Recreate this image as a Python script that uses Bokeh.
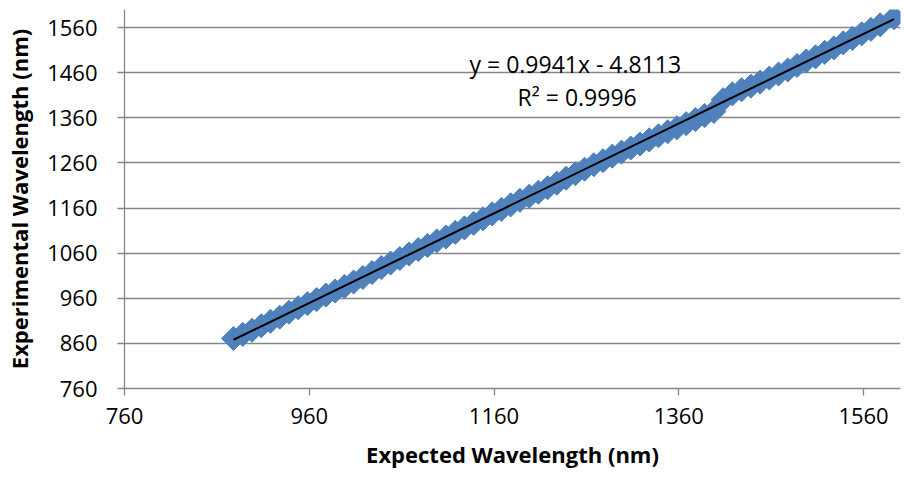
import numpy as np
from bokeh.plotting import figure
from bokeh.models import FixedTicker, Label, Range1d
from bokeh.embed import file_html
from bokeh.resources import INLINE

# Data
expected = [878, 888, 898, 908, 918, 928, 938, 948, 958, 968,
            978, 988, 998, 1008, 1018, 1028, 1038, 1048, 1058, 1068,
            1078, 1088, 1098, 1108, 1118, 1128, 1138, 1148, 1158, 1168,
            1178, 1188, 1198, 1208, 1218, 1228, 1238, 1248, 1258, 1268,
            1278, 1288, 1298, 1308, 1318, 1328, 1338, 1348, 1358, 1368,
            1378, 1388, 1398, 1408, 1418, 1428, 1438, 1448, 1458, 1468,
            1478, 1488, 1498, 1508, 1518, 1528, 1538, 1548, 1558, 1568,
            1578, 1593]
experimental = [871, 880, 889, 899, 909, 918, 929, 939, 948, 957,
                967, 976, 986, 996, 1006, 1017, 1028, 1038, 1048, 1058,
                1068, 1077, 1087, 1096, 1106, 1116, 1126, 1136, 1147, 1157,
                1167, 1177, 1186, 1195, 1205, 1215, 1226, 1236, 1246, 1256,
                1265, 1275, 1284, 1293, 1302, 1311, 1320, 1329, 1338, 1347,
                1356, 1365, 1374, 1400, 1413, 1422, 1430, 1439, 1448, 1457,
                1466, 1476, 1486, 1495, 1505, 1515, 1526, 1536, 1546, 1556,
                1566, 1582]
x_ticks = [760, 960, 1160, 1360, 1560]
y_ticks = [760, 860, 960, 1060, 1160, 1260, 1360, 1460, 1560]
slope = 0.9941
intercept = -4.8113
eq_text = "y = 0.9941x - 4.8113"
r2_text = "R² = 0.9996"

FONT = "Open Sans"
GRID = "#868686"

p = figure(width=904, height=483, output_backend="svg", toolbar_location=None,
           x_range=Range1d(760, 1600), y_range=Range1d(760, 1600),
           min_border_left=124, min_border_right=4, min_border_top=9,
           min_border_bottom=95)
p.outline_line_color = None
p.background_fill_color = "white"
p.border_fill_color = "white"

p.xgrid.grid_line_color = None
p.ygrid.grid_line_color = GRID
p.ygrid.grid_line_width = 1.3
p.ygrid.ticker = FixedTicker(ticks=y_ticks)

for ax in (p.xaxis[0], p.yaxis[0]):
    ax.axis_line_color = GRID
    ax.axis_line_width = 1.3
    ax.major_tick_line_color = GRID
    ax.major_tick_line_width = 1.3
    ax.major_tick_out = 7
    ax.major_tick_in = 0
    ax.minor_tick_line_color = None
    ax.major_label_text_font = FONT
    ax.major_label_text_font_size = "22px"
    ax.major_label_text_color = "#000000"
    ax.axis_label_text_font = FONT
    ax.axis_label_text_font_size = "22px"
    ax.axis_label_text_font_style = "bold"
    ax.axis_label_text_color = "#000000"

p.xaxis.ticker = FixedTicker(ticks=x_ticks)
p.yaxis.ticker = FixedTicker(ticks=y_ticks)
p.xaxis.axis_label = "Expected Wavelength (nm)"
p.yaxis.axis_label = "Experimental Wavelength (nm)"
p.xaxis.major_label_standoff = 12
p.xaxis.axis_label_standoff = 12
p.yaxis.major_label_standoff = 20
p.yaxis.axis_label_standoff = 10

p.scatter(expected, experimental, marker="square", angle=np.pi / 4, size=17,
          fill_color="#4F81BD", line_color="#4A7EBB", line_width=1)

x0, x1 = min(expected), max(expected)
p.line([x0, x1], [slope * x0 + intercept, slope * x1 + intercept],
       line_color="black", line_width=2)

p.add_layout(Label(x=1248, y=1480, text=eq_text, text_align="center",
                   text_baseline="middle", text_font=FONT,
                   text_font_size="23px", text_color="black"))
p.add_layout(Label(x=1250, y=1407, text=r2_text, text_align="center",
                   text_baseline="middle", text_font=FONT,
                   text_font_size="23px", text_color="black"))

open("out.html", "w").write(file_html(p, INLINE))
